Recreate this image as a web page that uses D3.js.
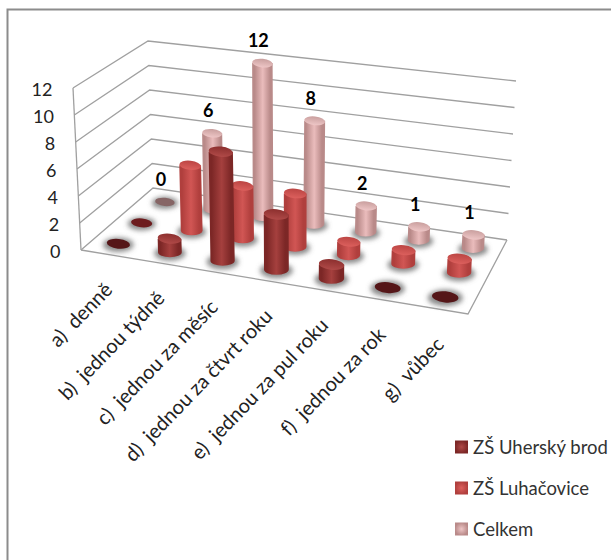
<!DOCTYPE html>
<html><head><meta charset="utf-8">
<script src="https://cdn.jsdelivr.net/npm/d3@7"></script>
<style>html,body{margin:0;padding:0;background:#fff}svg{display:block}text{font-family:Lato,"Open Sans",sans-serif}</style>
</head><body><svg id="c" width="611" height="560"></svg>
<script>
const categories=["a)  denně","b)  jednou týdně","c)  jednou za měsíc","d)  jednou za čtvrt roku","e)  jednou za pul roku","f)  jednou za rok","g)  vůbec"];
const seriesNames=["ZŠ Uherský brod","ZŠ Luhačovice","Celkem"];
const uhersky=[0,1,8,4,1,0,0];
const luhacovice=[0,5,4,4,1,1,1];
const celkem=[0,6,12,8,2,1,1];
const valueTicks=[0,2,4,6,8,10,12];
const seriesValues=[uhersky,luhacovice,celkem];
const palette=[
 {edge:"#7c2726",mid:"#a5403e",topA:"#b04a48",topB:"#8c2f2e",flat:"#551618"},
 {edge:"#b03f3d",mid:"#d15654",topA:"#dc605d",topB:"#bb4543",flat:"#6d1c1e"},
 {edge:"#b98a89",mid:"#eabcbc",topA:"#eec6c6",topB:"#c99f9e",flat:"#866565"}];
const cornersFloor={fl:[81,250],fr:[468,314],bl:[153,188],br:[507,240]};
const cornersTop={fl:[73,88],fr:[474,140],bl:[148,41],br:[516,81]};
const lerp=(a,b,t)=>a+(b-a)*t;
const warp=u=>u/(u+1.08*(1-u));
function project(u0,v,h){
  const u=warp(u0);
  const p=k=>{
    const f=lerp(lerp(cornersFloor.fl[k],cornersFloor.fr[k],u),lerp(cornersFloor.bl[k],cornersFloor.br[k],u),v);
    const t=lerp(lerp(cornersTop.fl[k],cornersTop.fr[k],u),lerp(cornersTop.bl[k],cornersTop.br[k],u),v);
    return lerp(f,t,h);
  };
  return [p(0),p(1)];
}
const uScale=d3.scaleBand().domain(d3.range(categories.length)).range([0,1]);
const vScale=d3.scaleBand().domain(d3.range(seriesNames.length)).range([0,1]);
const hScale=d3.scaleLinear().domain([0,12]).range([0,1]);
const uc=i=>uScale(i)+uScale.bandwidth()/2, vc=s=>vScale(s)+vScale.bandwidth()/2;
const svg=d3.select("#c");
const defs=svg.append("defs");
defs.append("filter").attr("id","blur").attr("x","-50%").attr("y","-50%").attr("width","200%").attr("height","200%")
  .append("feGaussianBlur").attr("stdDeviation",2.6);
palette.forEach((c,s)=>{
  const g=defs.append("linearGradient").attr("id","body"+s);
  [[0,c.edge],[.12,c.edge],[.5,c.mid],[.85,c.edge],[1,c.edge]].forEach(d=>g.append("stop").attr("offset",d[0]).attr("stop-color",d[1]));
  const t=defs.append("linearGradient").attr("id","top"+s).attr("x1",0).attr("x2",0).attr("y1",0).attr("y2",1);
  t.append("stop").attr("offset",0).attr("stop-color",c.topB);
  t.append("stop").attr("offset",1).attr("stop-color",c.topA);
  const l=defs.append("radialGradient").attr("id","leg"+s);
  l.append("stop").attr("offset",0).attr("stop-color",c.topA);
  l.append("stop").attr("offset",1).attr("stop-color",c.edge);
});
svg.append("path").attr("d","M7.5,562V9.5H613").attr("fill","none").attr("stroke","#8c8c8c").attr("stroke-width",2);
const grid=svg.append("g").attr("fill","none").attr("stroke","#a0a0a0").attr("stroke-width",1.3);
const line=d3.line();
valueTicks.forEach(t=>{
  const h=hScale(t);
  grid.append("path").attr("d",line([project(0,0,h),project(0,1,h),project(1,1,h)]));
});
grid.append("path").attr("d",line([project(0,0,0),project(0,0,1)]));
grid.append("path").attr("d",line([project(0,0,0),project(1,0,0),project(1,1,0)]));
svg.append("g").selectAll("text").data(valueTicks).join("text")
  .attr("x",d=>project(0,0,hScale(d))[0]-20.5).attr("y",d=>project(0,0,hScale(d))[1]+8)
  .attr("text-anchor","end").attr("font-size",18).attr("fill","#222").text(d=>d);
const halfU=uScale.bandwidth()*0.215;
const marks=[];
seriesValues.forEach((vals,s)=>vals.forEach((val,i)=>marks.push({s,i,val})));
const geom=m=>{
  const u=uc(m.i),v=vc(m.s);
  const base=project(u,v,0),top=project(u,v,hScale(m.val));
  const rx=(project(u+halfU,v,0)[0]-project(u-halfU,v,0)[0])/2*(m.s===0?1.06:m.s===1?1:.95);
  return {base,top,rx,ry:rx*.42};
};
const gShadow=svg.append("g").attr("filter","url(#blur)");
marks.forEach(m=>{const g=geom(m);
  gShadow.append("ellipse").attr("cx",g.base[0]).attr("cy",g.base[1]+1).attr("rx",g.rx*1.32).attr("ry",g.ry*1.5).attr("fill","#666").attr("opacity",.75);
});
const gBars=svg.append("g");
[2,1,0].forEach(s=>{
  marks.filter(m=>m.s===s).forEach(m=>{
    const g=geom(m),c=palette[s];
    const tilt=`rotate(6 ${g.top[0]} ${g.top[1]})`;
    if(m.val===0){
      gBars.append("ellipse").attr("cx",g.base[0]).attr("cy",g.base[1]).attr("rx",g.rx).attr("ry",g.ry).attr("fill",c.flat).attr("transform",tilt);
      return;
    }
    gBars.append("path").attr("fill",`url(#body${s})`).attr("d",
      `M${g.top[0]-g.rx},${g.top[1]}L${g.base[0]-g.rx},${g.base[1]}A${g.rx},${g.ry} 0 0 0 ${g.base[0]+g.rx},${g.base[1]}L${g.top[0]+g.rx},${g.top[1]}Z`);
    gBars.append("ellipse").attr("cx",g.top[0]).attr("cy",g.top[1]).attr("rx",g.rx).attr("ry",g.ry).attr("fill",`url(#top${s})`).attr("transform",tilt);
  });
});
svg.append("g").selectAll("text").data(marks.filter(m=>m.s===2)).join("text")
  .attr("x",m=>geom(m).top[0]-4).attr("y",m=>geom(m).top[1]-16)
  .attr("text-anchor","middle").attr("font-size",18).attr("font-weight",700).attr("fill","#000").text(m=>m.val);
svg.append("g").selectAll("text").data(categories).join("text")
  .attr("xml:space","preserve")
  .attr("transform",(d,i)=>{const p=project(uc(i),0,0);return `translate(${p[0]+1},${p[1]+31}) rotate(-46)`;})
  .attr("text-anchor","end").attr("dominant-baseline","central").attr("font-size",20).attr("fill","#222")
  .style("white-space","pre").text(d=>d);
const legendY=d3.scalePoint().domain(seriesNames).range([447,529]);
const lg=svg.append("g").selectAll("g").data(seriesNames).join("g").attr("transform",d=>`translate(455,${legendY(d)})`);
lg.append("rect").attr("x",0).attr("y",-6.5).attr("width",13).attr("height",13).attr("fill",(d,s)=>`url(#leg${s})`);
lg.append("text").attr("x",18).attr("y",6.5).attr("font-size",18.5).attr("fill","#333").text(d=>d);
</script></body></html>
